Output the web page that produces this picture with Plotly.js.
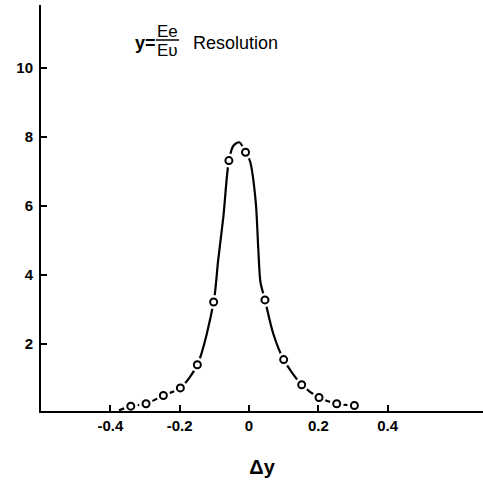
<!DOCTYPE html>
<html>
<head>
<meta charset="utf-8">
<script src="https://cdn.plot.ly/plotly-3.0.1.min.js"></script>
<style>html,body{margin:0;padding:0;background:#fff;}#chart{width:483px;height:481px;}</style>
</head>
<body>
<div id="chart"></div>
<script>
// Measured points (Δy, resolution)
const pointX = [-0.341, -0.297, -0.247, -0.198, -0.149, -0.102, -0.058, -0.010, 0.046, 0.100, 0.152, 0.202, 0.253, 0.304];
const pointY = [0.20, 0.27, 0.51, 0.73, 1.40, 3.22, 7.32, 7.56, 3.28, 1.55, 0.82, 0.45, 0.27, 0.22];

// Hand-drawn fitted curve
const fitX = [-0.375, -0.341, -0.297, -0.247, -0.198, -0.149, -0.102, -0.089, -0.074, -0.058, -0.045, -0.028, -0.010, 0.003, 0.019, 0.027, 0.033, 0.046, 0.070, 0.100, 0.152, 0.202, 0.253, 0.304];
const fitY = [0.08, 0.20, 0.27, 0.51, 0.73, 1.40, 3.22, 4.43, 5.69, 7.32, 7.75, 7.85, 7.56, 7.30, 6.17, 4.72, 3.80, 3.28, 2.30, 1.55, 0.82, 0.45, 0.27, 0.22];

// Axis ticks
const xTickVals = [-0.4, -0.2, 0, 0.2, 0.4];
const xTickText = ['-0.4', '-0.2', '0', '0.2', '0.4'];
const yTickVals = [2, 4, 6, 8, 10];
const yTickText = ['2', '4', '6', '8', '10'];

const traces = [
  {x: fitX, y: fitY, mode: 'lines', type: 'scatter',
   line: {color: '#000', width: 2.2, shape: 'spline', smoothing: 0.8},
   hoverinfo: 'skip', showlegend: false},
  {x: pointX, y: pointY, mode: 'markers', type: 'scatter',
   marker: {symbol: 'circle', size: 14, color: '#fff', line: {width: 0}},
   hoverinfo: 'skip', showlegend: false},
  {x: pointX, y: pointY, mode: 'markers', type: 'scatter',
   marker: {symbol: 'circle-open', size: 7, color: '#000', line: {width: 2, color: '#000'}},
   showlegend: false}
];

const tickFont = {family: 'Liberation Sans, Arial, sans-serif', size: 15, color: '#000', weight: 'bold'};

const layout = {
  width: 483, height: 481,
  margin: {l: 41, r: 0, t: 5, b: 70},
  paper_bgcolor: '#fff', plot_bgcolor: '#fff',
  showlegend: false,
  xaxis: {
    range: [-0.6, 0.675],
    tickvals: xTickVals, ticktext: xTickText,
    ticks: 'inside', ticklen: 6, tickwidth: 2, tickcolor: '#000',
    showline: true, linecolor: '#000', linewidth: 2,
    showgrid: false, zeroline: false,
    tickfont: tickFont,
    title: {text: 'Δy', font: {family: 'Liberation Sans, Arial, sans-serif', size: 20, color: '#000', weight: 'bold'}, standoff: 27}
  },
  yaxis: {
    range: [0.06, 11.83],
    tickvals: yTickVals, ticktext: yTickText,
    ticks: 'inside', ticklen: 6, tickwidth: 2, tickcolor: '#000',
    showline: true, linecolor: '#000', linewidth: 2,
    showgrid: false, zeroline: false,
    tickfont: tickFont,
    ticklabelstandoff: 3
  },
  shapes: [
    {type: 'line', xref: 'paper', yref: 'paper',
     x0: (156 - 41) / 442, x1: (179 - 41) / 442,
     y0: (411 - 40) / 406, y1: (411 - 40) / 406,
     line: {color: '#000', width: 1.5}}
  ],
  annotations: [
    {xref: 'paper', yref: 'paper', x: (133 - 41) / 442, y: (411 - 43) / 406,
     xanchor: 'left', yanchor: 'middle', showarrow: false, text: 'y=',
     font: {family: 'Liberation Sans, Arial, sans-serif', size: 18, color: '#000', weight: 'bold'}},
    {xref: 'paper', yref: 'paper', x: (167 - 41) / 442, y: (411 - 31) / 406,
     xanchor: 'center', yanchor: 'middle', showarrow: false, text: 'Ee',
     font: {family: 'Liberation Sans, Arial, sans-serif', size: 17, color: '#000'}},
    {xref: 'paper', yref: 'paper', x: (167 - 41) / 442, y: (411 - 51) / 406,
     xanchor: 'center', yanchor: 'middle', showarrow: false, text: 'Eυ',
     font: {family: 'Liberation Sans, Arial, sans-serif', size: 17, color: '#000'}},
    {xref: 'paper', yref: 'paper', x: (191 - 41) / 442, y: (411 - 43) / 406,
     xanchor: 'left', yanchor: 'middle', showarrow: false, text: 'Resolution',
     font: {family: 'Liberation Sans, Arial, sans-serif', size: 18, color: '#000'}}
  ]
};

Plotly.newPlot('chart', traces, layout, {displayModeBar: false, staticPlot: true});
</script>
</body>
</html>
